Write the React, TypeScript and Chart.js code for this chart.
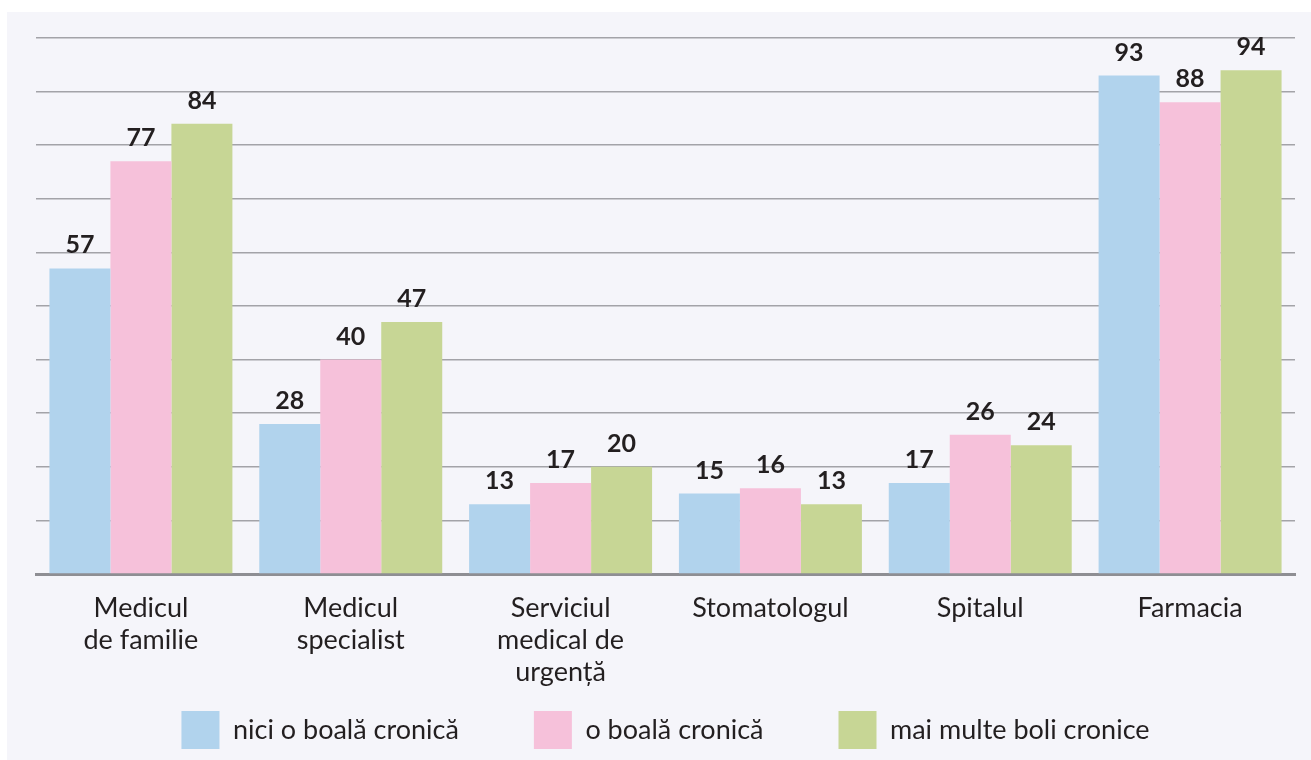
import React, { useEffect, useRef } from "react";
import { Chart, registerables } from "chart.js";

Chart.register(...registerables);

const categories: string[][] = [
  ["Medicul", "de familie"],
  ["Medicul", "specialist"],
  ["Serviciul", "medical de", "urgență"],
  ["Stomatologul"],
  ["Spitalul"],
  ["Farmacia"],
];

const seriesNames = ["nici o boală cronică", "o boală cronică", "mai multe boli cronice"];
const niciOBoala = [57, 28, 13, 15, 17, 93];
const oBoala = [77, 40, 17, 16, 26, 88];
const maiMulteBoli = [84, 47, 20, 13, 24, 94];
const seriesColors = ["#b1d3ed", "#f6c1da", "#c7d695"];

const FONT = "Lato, 'Open Sans', sans-serif";
const TEXT = "#231f20";

const valueLabels = {
  id: "valueLabels",
  afterDatasetsDraw(chart: any) {
    const ctx = chart.ctx;
    ctx.save();
    ctx.font = `bold 25px ${FONT}`;
    ctx.fillStyle = TEXT;
    ctx.textAlign = "center";
    ctx.textBaseline = "alphabetic";
    chart.data.datasets.forEach((ds: any, di: number) => {
      const meta = chart.getDatasetMeta(di);
      meta.data.forEach((bar: any, i: number) => {
        ctx.fillText(String(ds.data[i]), bar.x, bar.y - 15);
      });
    });
    ctx.restore();
  },
};

// let the category labels extend below the legend's layout box (no clipping)
const unclipX = {
  id: "unclipX",
  afterLayout(chart: any) {
    const x = chart.scales.x;
    if (x) x.bottom = chart.height;
  },
};

export default function App() {
  const ref = useRef<HTMLCanvasElement | null>(null);
  useEffect(() => {
    if (!ref.current) return;
    const data = [niciOBoala, oBoala, maiMulteBoli];
    const chart = new Chart(ref.current, {
      type: "bar",
      data: {
        labels: categories,
        datasets: data.map((d, i) => ({
          label: seriesNames[i],
          data: d,
          backgroundColor: seriesColors[i],
          borderWidth: 0,
          categoryPercentage: 0.872,
          barPercentage: 1,
        })),
      },
      options: {
        responsive: false,
        animation: false,
        devicePixelRatio: 1,
        layout: { padding: { left: 29, right: 16, top: 26, bottom: 1 } },
        plugins: {
          tooltip: { enabled: false },
          legend: {
            position: "bottom",
            labels: {
              boxWidth: 38,
              boxHeight: 38,
              padding: 75,
              color: TEXT,
              font: { family: FONT, size: 27 },
            },
          },
        },
        scales: {
          x: {
            grid: { display: false, drawTicks: false },
            border: { display: true, color: "#8e8e93", width: 3 },
            ticks: {
              color: TEXT,
              font: { family: FONT, size: 27, lineHeight: 1.185 },
              padding: 18,
              maxRotation: 0,
              autoSkip: false,
            },
            afterFit: (scale: any) => {
              scale.height = 62;
            },
          },
          y: {
            min: 0,
            max: 100,
            ticks: { display: false, stepSize: 10 },
            border: { display: false },
            grid: {
              drawTicks: false,
              lineWidth: 1.6,
              color: (c: any) => (c.tick && c.tick.value === 0 ? "rgba(0,0,0,0)" : "#a3a3a8"),
            },
          },
        },
      },
      plugins: [valueLabels, unclipX],
    });
    return () => chart.destroy();
  }, []);

  return (
    <div
      style={{
        position: "absolute",
        left: 7,
        top: 12,
        width: 1304,
        height: 748,
        background: "#f5f5fa",
      }}
    >
      <canvas ref={ref} width={1304} height={748} style={{ width: 1304, height: 748, display: "block" }} />
    </div>
  );
}
